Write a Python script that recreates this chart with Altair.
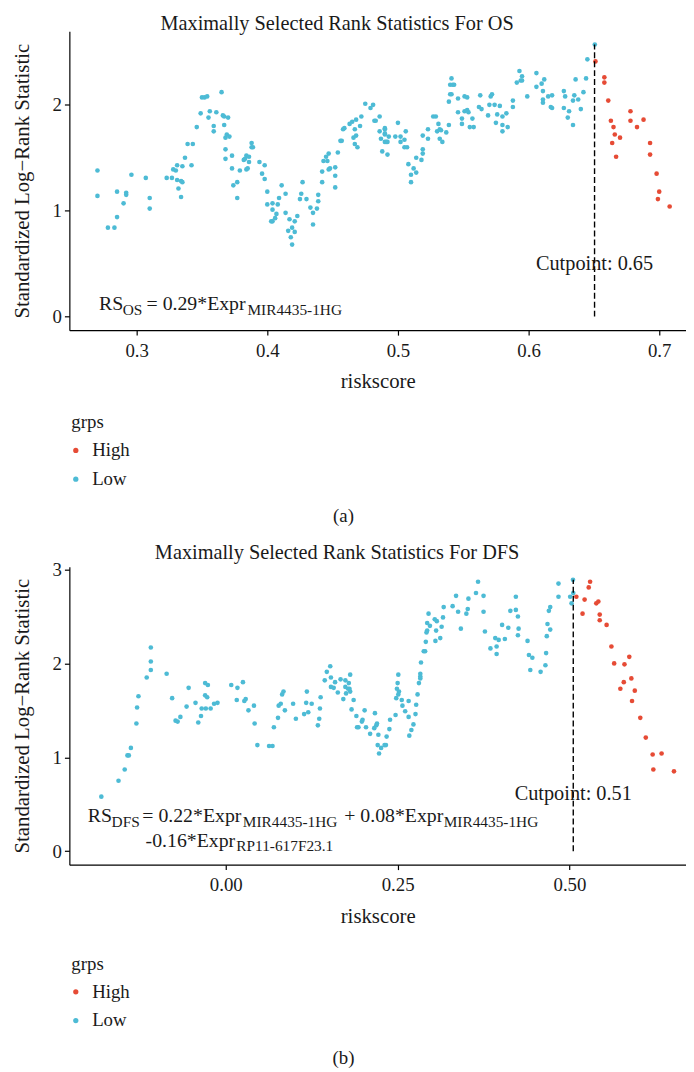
import altair as alt
import pandas as pd

FONT = "Liberation Serif"
RED = "#E64B35"
BLUE = "#4DBBD5"
INK = "#1a1a1a"

# ---------------- Panel (a): OS ----------------
OS_LOW_RISK = [
    0.270, 0.270, 0.278, 0.283, 0.285, 0.285, 0.290, 0.292, 0.292, 0.296, 0.307, 0.310, 0.310,
    0.323, 0.327, 0.328, 0.330, 0.331, 0.331, 0.332, 0.334, 0.334, 0.335, 0.335, 0.337, 0.339,
    0.342, 0.343, 0.346, 0.349, 0.350, 0.352, 0.354, 0.355, 0.356, 0.359, 0.359, 0.361, 0.365,
    0.366, 0.367, 0.367, 0.368, 0.369, 0.370, 0.371, 0.368, 0.368, 0.373, 0.373, 0.374, 0.377,
    0.377, 0.379, 0.382, 0.383, 0.384, 0.386, 0.386, 0.384, 0.385, 0.388, 0.388, 0.389, 0.394,
    0.398, 0.396, 0.398, 0.400, 0.400, 0.404, 0.404, 0.407, 0.403, 0.404, 0.406,
    0.408, 0.409, 0.411, 0.414, 0.414, 0.416, 0.417, 0.418, 0.419, 0.421, 0.421, 0.423, 0.425,
    0.426, 0.427, 0.430, 0.433, 0.435, 0.435, 0.438, 0.439, 0.439, 0.442, 0.442, 0.443, 0.445,
    0.446, 0.447, 0.447, 0.448, 0.452, 0.452, 0.452, 0.454, 0.456, 0.457, 0.458, 0.459, 0.463,
    0.465, 0.467, 0.466, 0.468, 0.468, 0.467, 0.469, 0.471, 0.472, 0.475, 0.479, 0.481, 0.482,
    0.483, 0.486, 0.486, 0.490, 0.490, 0.490, 0.490, 0.487, 0.490, 0.491, 0.492, 0.493, 0.488,
    0.492, 0.498, 0.500, 0.502, 0.502, 0.505, 0.506, 0.505, 0.507, 0.508, 0.510, 0.512, 0.514,
    0.510, 0.514, 0.518, 0.519, 0.519, 0.519, 0.523, 0.523, 0.527, 0.529, 0.531, 0.530, 0.532,
    0.533, 0.532, 0.534, 0.537, 0.539, 0.539, 0.540, 0.541, 0.540, 0.542, 0.541, 0.543, 0.546,
    0.546, 0.549, 0.549, 0.551, 0.553, 0.551, 0.553, 0.554, 0.555, 0.557, 0.558, 0.419,
    0.562, 0.563, 0.564, 0.569, 0.570, 0.572, 0.571, 0.574, 0.575, 0.576, 0.578, 0.580, 0.580,
    0.580, 0.583, 0.584, 0.588, 0.588, 0.591, 0.593, 0.594, 0.595, 0.595, 0.599, 0.606, 0.606,
    0.610, 0.611, 0.611, 0.611, 0.612, 0.615, 0.617, 0.618, 0.618, 0.627, 0.628, 0.627, 0.631,
    0.630, 0.634, 0.635, 0.634, 0.636, 0.638, 0.640, 0.642, 0.644, 0.645, 0.6507,
]
OS_LOW_STAT = [
    1.38, 1.14, 0.84, 0.84, 0.94, 1.18, 1.07, 1.17, 1.15, 1.34, 1.31, 1.12, 1.02,
    1.31, 1.31, 1.39, 1.38, 1.43, 1.29, 1.21, 1.28, 1.13, 1.27, 1.42, 1.50, 1.63,
    1.43, 1.63, 1.79, 1.92, 2.07, 2.07, 2.08, 1.88, 1.94, 1.75, 1.80, 1.93, 2.12,
    1.90, 1.89, 1.81, 1.69, 1.72, 1.88, 1.70, 1.58, 1.49, 1.52, 1.40, 1.24, 1.27,
    1.12, 1.38, 1.48, 1.49, 1.52, 1.51, 1.46, 1.39, 1.40, 1.64, 1.60, 1.60, 1.46,
    1.43, 1.35, 1.30, 1.18, 1.06, 1.07, 1.01, 0.97, 0.90, 0.90, 0.93,
    1.06, 1.12, 1.24, 1.16, 0.98, 0.81, 0.92, 0.75, 0.84, 0.80, 0.90, 0.95, 1.11,
    1.16, 1.27, 1.11, 1.03, 0.87, 0.98, 1.02, 1.09, 1.15, 1.27, 1.37, 1.47, 1.51,
    1.47, 1.54, 1.39, 1.40, 1.41, 1.33, 1.22, 1.55, 1.66, 1.66, 1.77, 1.78, 1.82,
    1.84, 1.77, 1.69, 1.86, 1.71, 1.63, 1.60, 1.80, 1.89, 2.01, 1.97, 2.00, 1.85,
    1.85, 1.89, 1.75, 1.77, 1.73, 1.72, 1.78, 1.68, 1.65, 1.65, 1.65, 1.70, 1.56,
    1.53, 1.70, 1.83, 1.70, 1.65, 1.67, 1.75, 1.60, 1.60, 1.44, 1.34, 1.40, 1.36,
    1.27, 1.50, 1.48, 1.54, 1.58, 1.71, 1.68, 1.77, 1.89, 1.89, 1.82, 1.75, 1.77,
    1.76, 1.68, 1.65, 1.74, 1.81, 2.03, 2.10, 2.10, 2.19, 2.19, 2.25, 2.19, 2.06,
    1.93, 1.87, 1.82, 2.08, 2.07, 1.94, 1.95, 1.93, 1.79, 1.87, 1.79, 0.68,
    1.98, 2.09, 1.96, 1.90, 2.00, 2.10, 2.08, 2.00, 1.83, 1.91, 1.99, 1.75, 1.81,
    1.89, 1.92, 1.79, 2.04, 1.98, 2.21, 2.32, 2.23, 2.23, 2.27, 2.08, 2.17, 2.30,
    2.20, 2.13, 2.05, 2.02, 2.24, 2.08, 1.98, 2.09, 1.97, 2.13, 2.08, 1.97, 1.94,
    1.88, 1.81, 2.09, 2.04, 2.24, 2.05, 1.96, 2.12, 2.25, 2.43, 2.57,
]
OS_HIGH_RISK = [
    0.6512, 0.658, 0.658, 0.661, 0.663, 0.665, 0.666, 0.664, 0.670, 0.667,
    0.678, 0.678, 0.688, 0.683, 0.693, 0.693, 0.698, 0.700, 0.699, 0.708,
]
OS_HIGH_STAT = [
    2.41, 2.26, 2.21, 2.04, 1.85, 1.79, 1.72, 1.64, 1.69, 1.51,
    1.94, 1.85, 1.86, 1.79, 1.64, 1.53, 1.35, 1.18, 1.11, 1.04,
]
OS_CUT = 0.6505
OS_CUT_LABEL = "Cutpoint: 0.65"
OS_TITLE = "Maximally Selected Rank Statistics For OS"
OS_XTICKS = [0.3, 0.4, 0.5, 0.6, 0.7]
OS_YTICKS = [0, 1, 2]

# ---------------- Panel (b): DFS ----------------
DFS_LOW_RISK = [
    -0.181, -0.156, -0.147, -0.143, -0.141, -0.138, -0.130, -0.129, -0.127, -0.115, -0.109,
    -0.109, -0.109, -0.086, -0.078, -0.073, -0.070, -0.066, -0.057, -0.054, -0.044, -0.040,
    -0.036, -0.035, -0.030, -0.026, -0.030, -0.027, -0.029, -0.022, -0.017, -0.012, 0.008,
    0.017, 0.025, 0.016, 0.027, 0.029, 0.033, 0.041, 0.042, 0.046, 0.063, 0.068, 0.070,
    0.076, 0.077, 0.080, 0.082, 0.084, 0.086,
    0.098, 0.102, 0.114, 0.117, 0.118, 0.120, 0.125, 0.134, 0.136, 0.137, 0.138, 0.144,
    0.147, 0.152, 0.153, 0.153, 0.157, 0.159, 0.163, 0.167, 0.171, 0.174, 0.174, 0.175,
    0.178, 0.179, 0.181, 0.181, 0.180, 0.183, 0.186, 0.190, 0.191, 0.193, 0.198, 0.199,
    0.202, 0.204, 0.210, 0.216, 0.217, 0.219, 0.220, 0.222, 0.221, 0.226, 0.223, 0.231,
    0.233, 0.234, 0.238, 0.239, 0.247, 0.248, 0.249, 0.250, 0.251, 0.252, 0.251, 0.256,
    0.257, 0.261, 0.266, 0.266, 0.270, 0.267, 0.273, 0.276, 0.277, 0.279, 0.281, 0.283,
    0.283, 0.283, 0.284, 0.288, 0.290, 0.291, 0.292, 0.293, 0.293, 0.295, 0.297, 0.304,
    0.305, 0.306, 0.307, 0.312, 0.314, 0.316, 0.317, 0.330, 0.335, 0.338, 0.342, 0.350,
    0.352, 0.353, 0.364,
    0.367, 0.375, 0.375, 0.377, 0.385, 0.392, 0.394, 0.394, 0.397, 0.402, 0.406, 0.411,
    0.414, 0.422, 0.422, 0.425, 0.426, 0.425, 0.439, 0.441, 0.446, 0.443, 0.458, 0.465,
    0.466, 0.467, 0.468, 0.472, 0.470, 0.472, 0.484, 0.484, 0.501, 0.503, 0.5051, 0.5055,
]
DFS_LOW_STAT = [
    0.58, 0.75, 0.87, 1.02, 1.02, 1.10, 1.36, 1.53, 1.65, 1.85, 1.93,
    2.02, 2.17, 1.89, 1.63, 1.39, 1.38, 1.43, 1.54, 1.74, 1.58, 1.37,
    1.44, 1.52, 1.79, 1.77, 1.66, 1.64, 1.52, 1.52, 1.57, 1.58, 1.77,
    1.74, 1.80, 1.61, 1.60, 1.62, 1.50, 1.55, 1.36, 1.13, 1.12, 1.12, 1.32,
    1.42, 1.55, 1.57, 1.67, 1.70, 1.50,
    1.57, 1.41, 1.46, 1.58, 1.70, 1.48, 1.57, 1.34, 1.41, 1.52, 1.64, 1.82,
    1.91, 1.97, 1.85, 1.75, 1.74, 1.80, 1.69, 1.83, 1.62, 1.75, 1.82, 1.68,
    1.73, 1.79, 1.88, 1.70, 1.73, 1.51, 1.61, 1.44, 1.32, 1.32, 1.38, 1.40,
    1.50, 1.32, 1.25, 1.31, 1.47, 1.34, 1.36, 1.24, 1.13, 1.10, 1.04, 1.13,
    1.13, 1.22, 1.30, 1.40, 1.45, 1.63, 1.73, 1.79, 1.88, 1.70, 1.67, 1.61,
    1.55, 1.49, 1.60, 1.43, 1.29, 1.23, 1.35, 1.46, 1.56, 1.67, 1.79, 1.84,
    1.89, 1.86, 2.01, 2.13, 2.13, 2.23, 2.33, 2.35, 2.43, 2.53, 2.40, 2.47,
    2.24, 2.35, 2.45, 2.27, 2.39, 2.49, 2.60, 2.61, 2.72, 2.55, 2.37, 2.53,
    2.58, 2.69, 2.75,
    2.87, 2.72, 2.55, 2.34, 2.16, 2.27, 2.18, 2.10, 2.25, 2.41, 2.26, 2.38,
    2.56, 2.71, 2.57, 2.50, 2.37, 2.30, 2.24, 2.09, 2.06, 1.93, 1.91, 1.98,
    2.11, 2.29, 2.42, 2.36, 2.56, 2.60, 2.85, 2.71, 2.71, 2.64, 2.89, 2.75,
]
DFS_HIGH_RISK = [
    0.510, 0.522, 0.519, 0.528, 0.530, 0.539, 0.542, 0.544, 0.544, 0.554, 0.561, 0.565,
    0.580, 0.587, 0.579, 0.574, 0.590, 0.595, 0.591, 0.603, 0.611, 0.621, 0.634, 0.622, 0.652,
]
DFS_HIGH_STAT = [
    2.71, 2.68, 2.53, 2.81, 2.87, 2.64, 2.66, 2.52, 2.46, 2.41, 2.18, 2.00,
    1.99, 2.07, 1.80, 1.73, 1.84, 1.71, 1.60, 1.42, 1.21, 1.03, 1.04, 0.87, 0.85,
]
DFS_CUT = 0.5055
DFS_CUT_LABEL = "Cutpoint: 0.51"
DFS_TITLE = "Maximally Selected Rank Statistics For DFS"
DFS_XTICKS = [0.0, 0.25, 0.5]
DFS_YTICKS = [0, 1, 2, 3]

W = 623
MAIN, SUB = 20, 15.5


def piece(xs, ys, label, dx, dy, size, xscale, yscale):
    df = pd.DataFrame({"riskscore": [xs], "stat": [ys]})
    return alt.Chart(df).mark_text(
        align="left", baseline="alphabetic", dx=dx, dy=dy, fontSize=size,
        font=FONT, color=INK,
    ).encode(
        x=alt.X("riskscore:Q", scale=xscale),
        y=alt.Y("stat:Q", scale=yscale),
        text=alt.value(label),
    )


def panel(low_x, low_y, high_x, high_y, cut, cut_label, cut_y, title, xdom, ydom,
          xticks, xfmt, yticks, formula, caption, height, legend_y, cap_y):
    xscale = alt.Scale(domain=xdom, nice=False, zero=False)
    yscale = alt.Scale(domain=ydom, nice=False, zero=False)
    pts = pd.DataFrame({
        "riskscore": low_x + high_x,
        "stat": low_y + high_y,
        "grps": ["Low"] * len(low_x) + ["High"] * len(high_x),
    })
    points = alt.Chart(pts).mark_circle(size=22, opacity=1).encode(
        x=alt.X("riskscore:Q", scale=xscale,
                axis=alt.Axis(values=xticks, format=xfmt, title="riskscore",
                              labelPadding=6.5, titlePadding=10.5)),
        y=alt.Y("stat:Q", scale=yscale,
                axis=alt.Axis(values=yticks, format="d", title="Standardized Log\u2212Rank Statistic",
                              titlePadding=20)),
        color=alt.Color("grps:N",
                        scale=alt.Scale(domain=["High", "Low"], range=[RED, BLUE]),
                        legend=alt.Legend(title="grps", orient="none", legendX=2, legendY=legend_y)),
    )
    ymax = max(low_y + high_y)
    rule = alt.Chart(pd.DataFrame({"riskscore": [cut], "stat": [0], "top": [ymax]})).mark_rule(
        color="black", strokeDash=[6, 3], strokeWidth=1.4
    ).encode(x=alt.X("riskscore:Q", scale=xscale), y=alt.Y("stat:Q", scale=yscale), y2="top:Q")
    cut_txt = alt.Chart(pd.DataFrame({"riskscore": [cut], "stat": [cut_y]})).mark_text(
        align="center", baseline="alphabetic", fontSize=20.5, font=FONT, color=INK
    ).encode(x=alt.X("riskscore:Q", scale=xscale), y=alt.Y("stat:Q", scale=yscale),
             text=alt.value(cut_label))
    layers = [points, rule, cut_txt]
    for (fx, fy, label, dx, dy, size) in formula:
        layers.append(piece(fx, fy, label, dx, dy, size, xscale, yscale))
    cap = alt.Chart(pd.DataFrame({"c": [caption]})).mark_text(
        align="center", baseline="middle", fontSize=19, font=FONT, color=INK
    ).encode(x=alt.value(277), y=alt.value(cap_y), text="c:N")
    layers.append(cap)
    return alt.layer(*layers).properties(
        width=W, height=height,
        title=alt.TitleParams(text=title, fontSize=20.5, font=FONT, fontWeight="normal",
                              anchor="middle", offset=-3, dx=-41, color=INK),
    )


OS_FX, OS_FY = 0.2712, 0.06
os_formula = [
    (OS_FX, OS_FY, "RS", 0, 0, MAIN),
    (OS_FX, OS_FY, "OS", 24, 5, SUB),
    (OS_FX, OS_FY, "= 0.29*Expr", 48, 0, MAIN),
    (OS_FX, OS_FY, "MIR4435-1HG", 150, 5, SUB),
]
DFS_FX, DFS_FY = -0.2006, 0.3126
dfs_formula = [
    (DFS_FX, DFS_FY, "RS", 0, 0, MAIN),
    (DFS_FX, DFS_FY, "DFS", 24, 5, SUB),
    (DFS_FX, DFS_FY, "= 0.22*Expr", 55, 0, MAIN),
    (DFS_FX, DFS_FY, "MIR4435-1HG", 156.6, 5, SUB),
    (DFS_FX, DFS_FY, "+ 0.08*Expr", 259, 0, MAIN),
    (DFS_FX, DFS_FY, "MIR4435-1HG", 359.5, 5, SUB),
    (DFS_FX, DFS_FY, "-0.16*Expr", 58.3, 25, MAIN),
    (DFS_FX, DFS_FY, "RP11-617F23.1", 150, 30, SUB),
]

top = panel(OS_LOW_RISK, OS_LOW_STAT, OS_HIGH_RISK, OS_HIGH_STAT, OS_CUT, OS_CUT_LABEL, 0.44,
            OS_TITLE, [0.2485, 0.7205], [-0.128, 2.695], OS_XTICKS, ".1f", OS_YTICKS,
            os_formula, "(a)", 302, 386, 490)
bottom = panel(DFS_LOW_RISK, DFS_LOW_STAT, DFS_HIGH_RISK, DFS_HIGH_STAT, DFS_CUT, DFS_CUT_LABEL, 0.54,
               DFS_TITLE, [-0.2275, 0.6695], [-0.144, 3.03], DFS_XTICKS, ".2f", DFS_YTICKS,
               dfs_formula, "(b)", 301, 392, 496)

chart = alt.vconcat(top, bottom, spacing=17).resolve_scale(
    color="independent", x="independent", y="independent"
).resolve_legend(color="independent").properties(
    padding={"left": 3, "top": 0, "right": 0, "bottom": 0},
    background="white",
).configure_view(stroke=None).configure_axis(
    labelFont=FONT, labelFontSize=19, labelColor=INK, labelPadding=3,
    titleFont=FONT, titleFontSize=21, titleFontWeight="normal", titleColor=INK,
    domainColor="black", domainWidth=1.2, tickColor="black", tickWidth=1.2, tickSize=5,
    grid=False,
).configure_legend(
    labelFont=FONT, labelFontSize=19, labelColor=INK, titleFont=FONT, titleFontSize=19,
    titleFontWeight="normal", titleColor=INK, symbolType="circle", symbolSize=28,
    symbolStrokeWidth=0, rowPadding=9, titlePadding=9, labelOffset=7, symbolOffset=-5,
    padding=0,
)

chart.save("out.html", embed_options={"renderer": "svg", "actions": False})
